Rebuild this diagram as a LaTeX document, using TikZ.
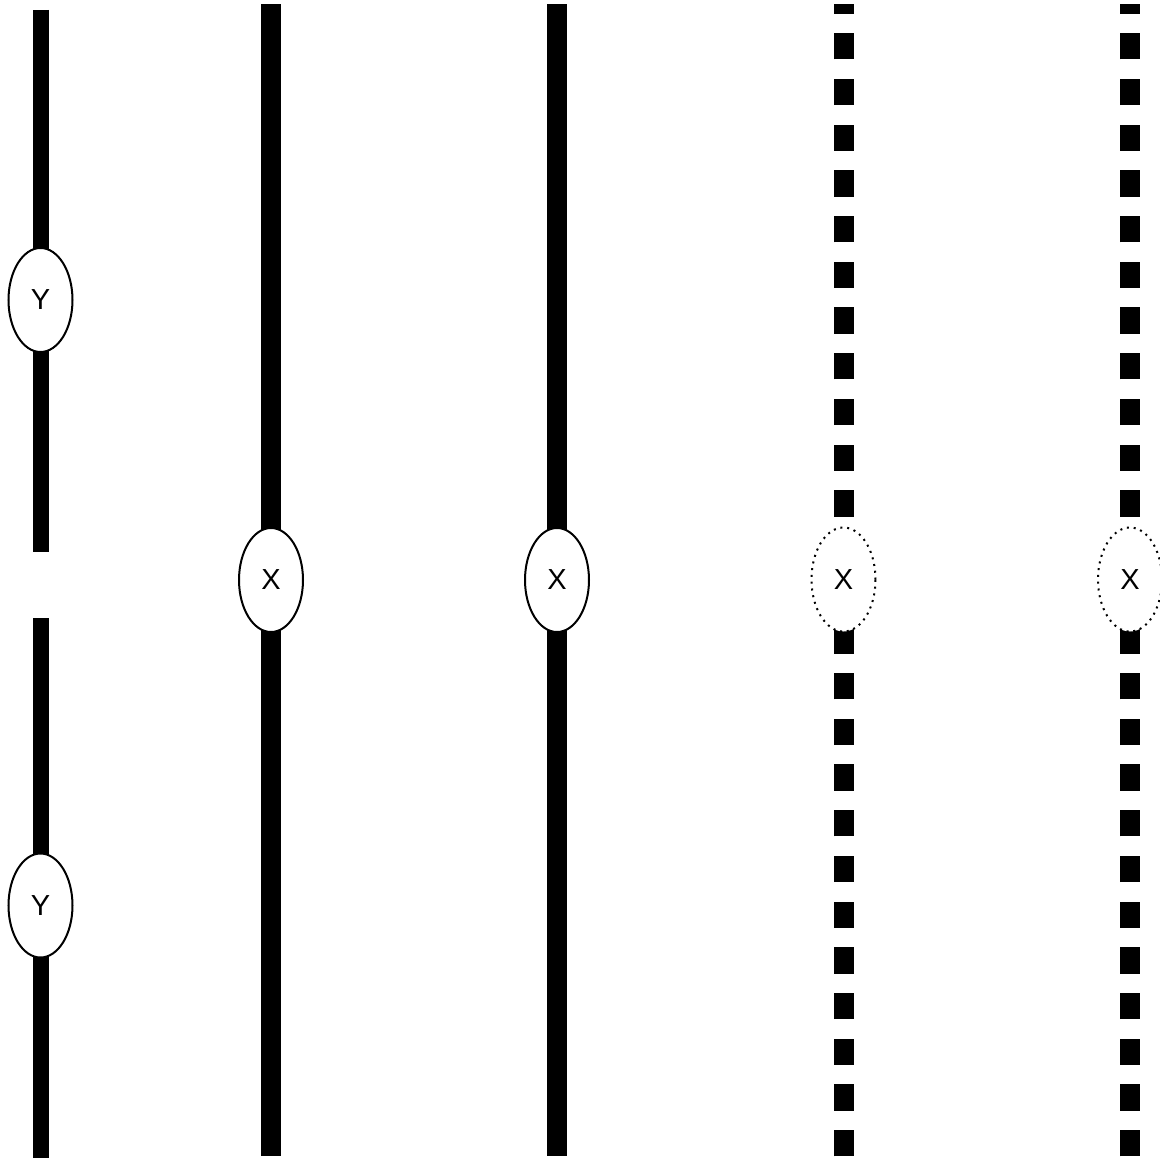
\documentclass[tikz,border=0pt]{standalone}
\usepackage{fontspec}
\setmainfont{Liberation Sans}
\usetikzlibrary{shapes.geometric}
\pgfdeclarelayer{background}
\pgfsetlayers{background,main}
\begin{document}
\begin{tikzpicture}[x=1pt,y=-1pt,
  thinbar/.style={line width=16pt},
  thickbar/.style={line width=20pt},
  dashbar/.style={line width=20pt, dash pattern=on 26.3pt off 19.4pt},
  labeloval/.style={ellipse, draw, line width=2pt, fill=white, minimum width=64pt, minimum height=104pt, inner sep=0pt, font=\fontsize{29}{29}\selectfont},
  dottedoval/.style={labeloval, dash pattern=on 2pt off 4.8pt}]
\useasboundingbox (0,0) rectangle (1160,1158);
\clip (0,0) rectangle (1160,1158);
% ovals
\node[labeloval] (y1) at (40.5,300) {Y};
\node[labeloval] (y2) at (40.5,905.5) {Y};
\node[labeloval] (x2) at (271,580) {X};
\node[labeloval] (x3) at (557,580) {X};
\node[dottedoval] (x4) at (843.5,579.5) {X};
\node[dottedoval] (x5) at (1130,579.5) {X};
% free ends
\coordinate (t1) at (40.5,10);
\coordinate (m1) at (40.5,551.7);
\coordinate (m2) at (40.5,618);
\coordinate (b1) at (40.5,1160);
\coordinate (t2) at (271,4.3);
\coordinate (b2) at (271,1156.3);
\coordinate (t3) at (557,4.3);
\coordinate (b3) at (557,1156.3);
\coordinate (t4) at (843.5,4);
\coordinate (b4) at (843.5,1156.3);
\coordinate (t5) at (1130,4);
\coordinate (b5) at (1130,1156.3);
\begin{pgfonlayer}{background}
\draw[thinbar] (t1) -- (y1.center) -- (m1);
\draw[thinbar] (m2) -- (y2.center) -- (b1);
\draw[thickbar] (t2) -- (x2.center) -- (b2);
\draw[thickbar] (t3) -- (x3.center) -- (b3);
\draw[dashbar] (b4) -- (t4);
\draw[dashbar] (b5) -- (t5);
\end{pgfonlayer}
\end{tikzpicture}
\end{document}
